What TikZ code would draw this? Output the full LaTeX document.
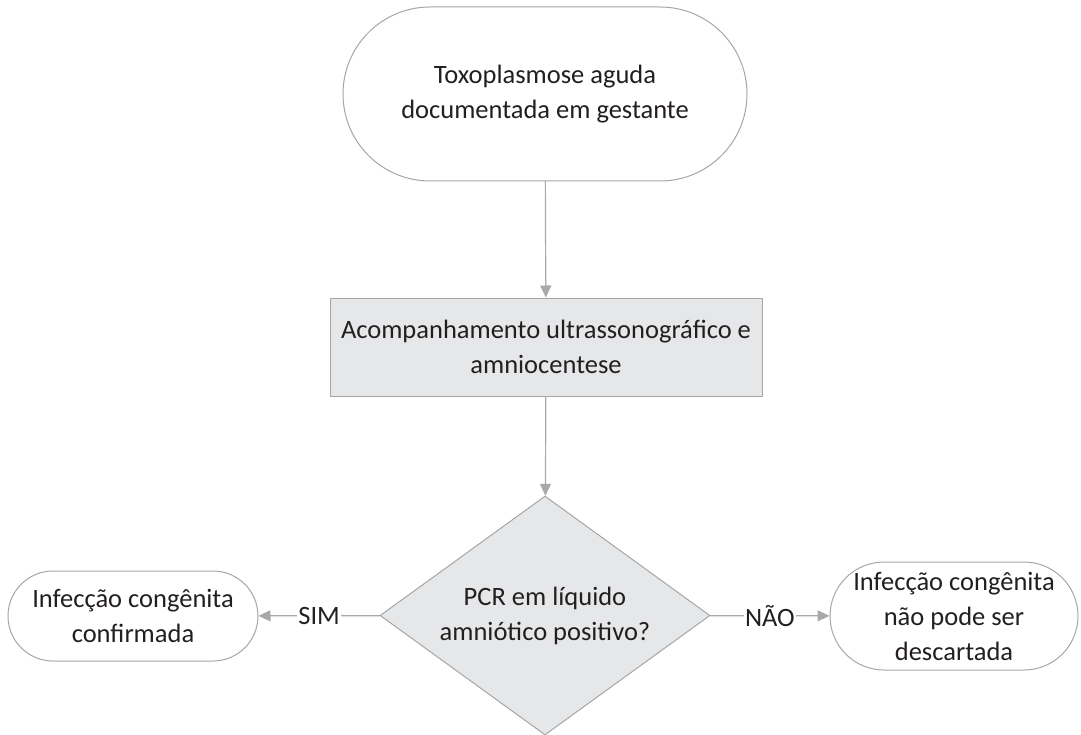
\documentclass[tikz,border=0pt]{standalone}
\usepackage{fontspec}
\setmainfont{Carlito}
\usetikzlibrary{shapes.misc,shapes.geometric,arrows.meta}
\definecolor{edgegray}{RGB}{166,166,166}
\definecolor{boxgray}{RGB}{230,231,232}
\definecolor{arrowgray}{RGB}{167,169,172}
\definecolor{textdark}{RGB}{35,31,32}
\tikzset{every picture/.style={line width=1pt}}
\tikzset{
  terminal/.style={rounded rectangle, draw=edgegray, fill=white, align=center, text=textdark, inner sep=0pt},
  process/.style={rectangle, draw=edgegray, fill=boxgray, align=center, text=textdark, inner sep=0pt},
  decision/.style={diamond, draw=edgegray, fill=boxgray, inner sep=0pt},
  flow/.style={draw=arrowgray, line width=1.2pt, -{Triangle[length=12pt,width=11pt]}},
  answer/.style={fill=white, inner sep=1pt, text=textdark}
}

\begin{document}
\begin{tikzpicture}[x=1pt,y=1pt,yscale=-1,xscale=1,font=\fontsize{26.5}{35}\selectfont]
    \useasboundingbox (0,0) rectangle (1081,735);

    %Shape: Terminal [id:start]
    \node [terminal, minimum width=404, minimum height=174] (start) at (545,94) {Toxoplasmose aguda\\documentada em gestante};
    %Shape: Process [id:amnio]
    \node [process, minimum width=432, minimum height=98] (amnio) at (546,347) {Acompanhamento ultrassonográfico e\\amniocentese};
    %Shape: Decision [id:pcr]
    \node [decision, minimum width=330, minimum height=239,
           label={[align=center, text=textdark]center:PCR em líquido\\amniótico positivo?}] (pcr) at (545,615.5) {};
    %Shape: Terminal [id:yes]
    \node [terminal, minimum width=250, minimum height=90] (yes) at (133,616) {Infecção congênita\\confirmada};
    %Shape: Terminal [id:no]
    \node [terminal, minimum width=248, minimum height=108] (no) at (954,616) {Infecção congênita\\não pode ser\\descartada};

    %Straight Lines
    \draw [flow] (start) -- (amnio);
    \draw [flow] (amnio) -- (pcr);
    \draw [flow] (pcr) -- node [answer] {SIM} (yes);
    \draw [flow] (pcr) -- node [answer] {NÃO} (no);
\end{tikzpicture}
\end{document}
